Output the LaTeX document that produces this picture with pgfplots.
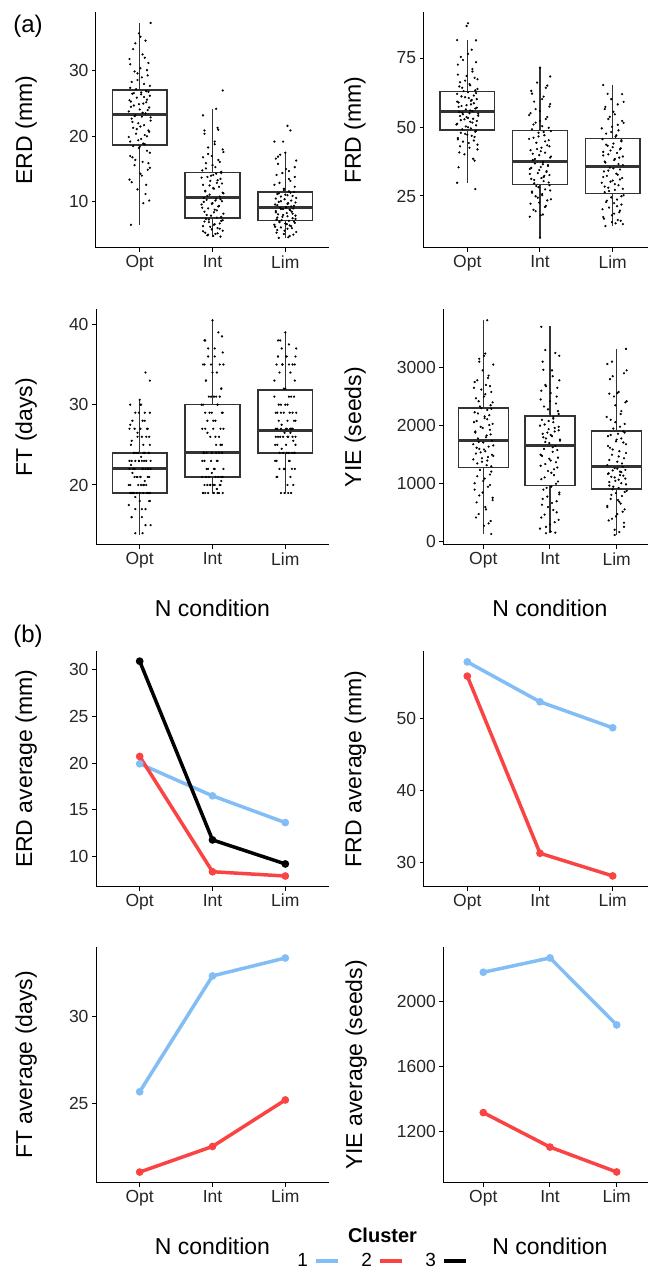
\documentclass[border=0pt]{standalone}
\usepackage{fontspec}
\setmainfont{Liberation Sans}
\usepackage{pgfplots}
\pgfplotsset{compat=1.18}
\usepgfplotslibrary{statistics}
\definecolor{cblue}{RGB}{130,190,245}
\definecolor{cred}{RGB}{250,68,68}
\definecolor{boxc}{RGB}{51,51,51}
\newcommand{\tickfont}{\fontsize{17.5}{20}\selectfont}
\newcommand{\labfont}{\fontsize{23}{26}\selectfont}
\pgfplotsset{
  panel/.style={
    scale only axis, height=235.5pt,
    axis x line=bottom, axis y line=left,
    axis line style={-, line width=1pt, black},
    tick style={line width=1pt, black},
    tick align=outside, major tick length=4pt,
    xtick={1,2,3}, xticklabels={Opt,Int,Lim}, xmin=0.4,
    tick label style={font=\tickfont, text=black!85},
    /pgf/number format/assume math mode=true,
    /pgf/number format/1000 sep={},
    scaled y ticks=false,
    label style={font=\labfont},
    boxplot/draw direction=y,
  },
  leftp/.style={panel, width=233pt, xmax=3.6},
  rightp/.style={panel, width=224.3pt, xmax=3.486},
  rightq/.style={panel, width=204.7pt, xmax=3.47},
  ylab/.style={ylabel style={at={(axis description cs:#1,0.5)}, anchor=center}},
  xlab/.style={xlabel={N condition}, xlabel style={at={(axis description cs:#1,0)}, anchor=base, yshift=-71.5pt}},
  bx/.style={boxc, line width=1.5pt, fill=white},
  jit/.style={only marks, mark=*, mark size=0.9pt, black},
  ln/.style={line width=3.5pt, mark=*, mark size=2pt, line cap=round},
  boxplot/every median/.style={line width=3pt},
}
\begin{document}
\begin{tikzpicture}
\useasboundingbox (0pt,0pt) rectangle (648pt,1269pt);
\node[font=\fontsize{24}{26}\selectfont] at (28pt,1243pt) {(a)};
\node[font=\fontsize{24}{26}\selectfont] at (28pt,632.7pt) {(b)};
\node[font=\bfseries\fontsize{20}{22}\selectfont] at (382.5pt,34pt) {Cluster};

% ---------- P1 ERD
\begin{axis}[leftp, at={(96pt,1021pt)}, anchor=south west, ymin=2.96, ymax=38.9, ytick={10,20,30}, ylabel={ERD (mm)}, ylab=-0.30]
\addplot[bx, boxplot prepared={draw position=1, lower whisker=6.48, lower quartile=18.67, median=23.32, upper quartile=27.04, upper whisker=37.35, box extend=0.75, whisker extend=0}] coordinates {};
\addplot[bx, boxplot prepared={draw position=2, lower whisker=4.69, lower quartile=7.5, median=10.66, upper quartile=14.49, upper whisker=24.23, box extend=0.75, whisker extend=0}] coordinates {};
\addplot[bx, boxplot prepared={draw position=3, lower whisker=4.5, lower quartile=7.14, median=9.13, upper quartile=11.53, upper whisker=17.55, box extend=0.75, whisker extend=0}] coordinates {};
\addplot[jit] coordinates {(0.88,6.5) (1.05,9.8) (1.13,10.2) (0.97,11.9) (1.09,12.6) (0.86,13.4) (1.01,14.3) (1.11,14.9) (0.93,15.6) (1.04,16.1) (0.90,16.8) (1.14,17.5) (0.99,18.2) (1.07,18.8) (0.87,19.2) (1.02,19.6) (1.10,20.0) (0.95,20.4) (1.12,20.9) (0.91,21.3) (1.06,21.7) (0.98,22.0) (1.15,22.4) (0.89,22.7) (1.03,23.0) (0.94,23.2) (1.08,23.5) (0.85,23.8) (1.00,24.1) (1.13,24.4) (0.92,24.7) (1.05,25.0) (0.88,25.3) (1.10,25.6) (0.96,25.9) (1.14,26.2) (0.90,26.5) (1.02,26.7) (1.09,26.9) (0.87,27.4) (1.06,28.0) (0.97,28.6) (1.11,29.3) (0.93,29.9) (1.01,30.4) (1.12,31.2) (0.86,31.8) (1.04,32.5) (0.91,33.3) (1.08,34.6) (0.99,35.7) (1.15,37.3)
(2.11,4.7) (1.93,4.9) (2.04,5.1) (1.90,5.3) (2.14,5.6) (1.99,5.8) (2.07,6.0) (1.87,6.3) (2.02,6.5) (2.10,6.7) (1.95,6.9) (2.12,7.1) (1.91,7.4) (2.06,7.6) (1.98,7.9) (2.15,8.2) (1.89,8.5) (2.03,8.8) (1.94,9.0) (2.08,9.3) (1.85,9.6) (2.00,9.8) (2.13,10.1) (1.92,10.3) (2.05,10.5) (1.88,10.6) (2.10,10.8) (1.96,11.1) (2.14,11.4) (1.90,11.7) (2.02,12.0) (2.09,12.3) (1.87,12.6) (2.06,12.9) (1.97,13.2) (2.11,13.5) (1.93,13.8) (2.01,14.1) (2.12,14.4) (1.86,14.8) (2.04,15.3) (1.91,15.9) (2.08,16.4) (1.99,17.0) (2.15,17.6) (1.94,18.3) (2.03,19.2) (1.89,20.4) (2.07,21.3) (1.87,23.2) (2.05,24.2) (2.14,27.0)
(2.91,4.5) (3.06,4.8) (2.98,5.1) (3.15,5.4) (2.89,5.7) (3.03,5.9) (2.94,6.1) (3.08,6.3) (2.85,6.5) (3.00,6.7) (3.13,6.8) (2.92,7.0) (3.05,7.1) (2.88,7.3) (3.10,7.5) (2.96,7.7) (3.14,7.9) (2.90,8.1) (3.02,8.3) (3.09,8.5) (2.87,8.6) (3.06,8.8) (2.97,8.9) (3.11,9.0) (2.93,9.1) (3.01,9.2) (3.12,9.4) (2.86,9.6) (3.04,9.8) (2.91,10.0) (3.08,10.2) (2.99,10.4) (3.15,10.6) (2.94,10.8) (3.03,11.0) (2.89,11.2) (3.07,11.4) (2.98,11.8) (3.13,12.3) (2.92,12.9) (3.05,13.5) (2.88,14.1) (3.05,14.7) (3.13,15.3) (2.87,16.6) (2.90,16.9) (3.00,17.5) (2.85,19.2) (2.97,19.2) (3.07,20.9) (3.03,21.6)};
\addplot[jit] coordinates {(1.08,11.2) (0.89,13.0) (1.03,14.0) (1.14,15.2) (0.94,16.4) (0.87,17.0) (1.10,17.8) (1.00,18.4) (0.91,18.5) (1.12,15.9) (1.05,18.9) (0.98,19.4) (0.85,19.9) (1.07,20.2) (1.13,20.7) (0.96,21.1) (1.01,21.5) (0.90,22.2) (1.15,22.9) (0.93,23.1) (1.04,23.6) (1.11,24.0) (0.88,24.5) (0.99,24.9) (1.09,25.2) (0.86,25.5) (1.06,26.0) (1.02,26.4) (0.92,26.6) (1.12,26.8) (0.95,27.2) (1.14,27.7) (0.89,28.3) (1.03,29.0) (0.97,29.6) (1.10,30.1) (0.87,31.0) (1.07,32.0) (0.94,34.2) (1.01,35.2)
(2.01,4.8) (1.94,5.0) (2.07,5.2) (1.87,5.5) (2.10,5.9) (1.97,6.2) (2.03,6.6) (1.89,7.0) (2.14,7.2) (1.95,7.3) (2.12,7.7) (1.92,8.0) (2.02,8.4) (2.06,8.7) (1.86,9.1) (2.09,9.4) (1.99,9.7) (1.88,10.0) (2.11,10.4) (2.04,10.2) (1.93,10.9) (2.15,11.3) (1.90,11.6) (2.01,12.1) (1.96,12.5) (2.13,12.8) (2.07,13.3) (1.85,13.7) (1.98,14.0) (2.05,14.3) (2.12,14.6) (1.91,15.1) (2.00,15.6) (2.10,16.1) (1.87,16.8) (1.94,17.3) (2.14,18.0) (2.03,18.8) (1.89,20.9) (2.08,21.0)
(3.04,4.6) (3.11,5.0) (2.88,5.3) (2.99,5.6) (3.09,6.0) (2.86,6.2) (3.06,6.4) (3.02,6.6) (2.92,6.9) (3.12,7.0) (2.95,7.2) (3.14,7.4) (2.89,7.6) (3.03,7.8) (2.97,8.0) (3.10,8.2) (2.87,8.4) (3.07,8.7) (2.94,8.9) (3.01,9.1) (3.08,9.3) (2.89,9.5) (3.03,9.7) (3.14,9.9) (2.94,10.1) (2.87,10.5) (3.10,10.9) (3.00,11.1) (2.91,11.3) (3.12,11.5) (3.05,11.6) (2.98,12.0) (2.85,12.6) (3.07,13.2) (3.13,13.8) (2.96,14.4) (3.01,15.0) (2.90,15.8) (3.15,16.3) (2.93,17.2)};
\end{axis}

% ---------- P2 FRD
\begin{axis}[rightp, at={(423.7pt,1021pt)}, anchor=south west, ymin=6.16, ymax=91.5, ytick={25,50,75}, ylabel={FRD (mm)}, ylab=-0.307]
\addplot[bx, boxplot prepared={draw position=1, lower whisker=29.8, lower quartile=48.9, median=55.56, upper quartile=62.8, upper whisker=81.5, box extend=0.75, whisker extend=0}] coordinates {};
\addplot[bx, boxplot prepared={draw position=2, lower whisker=9.9, lower quartile=29.2, median=37.56, upper quartile=48.7, upper whisker=71.5, box extend=0.75, whisker extend=0}] coordinates {};
\addplot[bx, boxplot prepared={draw position=3, lower whisker=14.1, lower quartile=25.85, median=35.75, upper quartile=45.9, upper whisker=65.2, box extend=0.75, whisker extend=0}] coordinates {};
\addplot[jit] coordinates {(1.11,27.5) (0.86,29.8) (0.88,35.4) (1.10,37.8) (0.96,40.1) (1.14,41.9) (0.90,43.0) (1.02,44.2) (1.09,45.1) (0.87,46.0) (1.06,46.8) (0.97,47.5) (1.11,48.3) (0.93,49.2) (1.01,49.9) (1.12,50.6) (0.86,51.2) (1.04,51.9) (0.91,52.5) (1.08,53.0) (0.99,53.6) (1.15,54.1) (0.94,54.6) (1.03,55.0) (0.89,55.4) (1.07,55.8) (0.98,56.4) (1.13,57.0) (0.92,57.6) (1.05,58.2) (0.88,58.9) (1.05,59.5) (1.13,60.1) (0.97,60.8) (1.09,61.4) (0.86,62.0) (1.01,62.6) (1.11,63.3) (0.93,64.2) (1.04,65.1) (0.90,66.2) (1.14,67.3) (0.99,68.5) (1.07,70.1) (0.87,72.6) (1.12,73.5) (0.91,75.4) (1.06,78.0) (0.86,81.5) (1.12,81.4) (0.99,86.6) (1.01,87.6)
(2.00,9.9) (1.86,17.5) (2.04,18.3) (1.91,20.0) (2.08,21.4) (1.99,22.6) (2.15,23.8) (1.94,24.9) (2.03,25.7) (1.89,26.6) (2.07,27.4) (1.98,28.2) (2.13,28.9) (1.92,29.6) (2.05,30.4) (1.88,31.2) (2.05,31.9) (2.13,32.6) (1.97,33.3) (2.09,34.0) (1.86,34.8) (2.01,35.5) (2.11,36.2) (1.93,36.8) (2.04,37.3) (1.90,38.0) (2.14,38.9) (1.99,39.8) (2.07,40.7) (1.87,41.6) (2.02,42.5) (2.10,43.4) (1.95,44.3) (2.12,45.2) (1.91,46.1) (2.06,47.0) (1.98,47.9) (2.15,48.5) (1.89,49.2) (2.03,50.3) (1.94,51.6) (2.08,52.9) (1.85,54.3) (2.00,55.8) (2.13,57.4) (1.92,59.2) (2.05,61.0) (1.88,63.1) (2.10,65.0) (1.96,66.1) (2.14,68.3) (2.00,71.5)
(2.90,14.1) (3.14,14.8) (2.99,15.5) (3.07,16.3) (2.87,17.4) (3.02,18.6) (3.10,19.7) (2.95,20.8) (3.12,21.9) (2.91,22.8) (3.06,23.7) (2.98,24.5) (3.15,25.3) (2.89,26.4) (3.03,27.2) (2.94,28.0) (3.08,28.9) (2.85,29.8) (3.00,30.6) (3.13,31.5) (2.92,32.3) (3.05,33.1) (2.88,33.9) (3.10,34.6) (2.96,35.3) (3.14,36.2) (2.90,37.1) (3.02,38.0) (3.09,38.9) (2.87,39.7) (3.06,40.6) (2.97,41.5) (3.11,42.3) (2.93,43.2) (3.01,44.0) (3.12,44.8) (2.86,45.6) (3.04,46.5) (2.91,47.6) (3.08,48.8) (2.99,50.1) (3.15,51.5) (2.94,52.9) (3.03,54.6) (2.89,56.5) (3.07,58.2) (2.98,60.1) (3.13,61.9) (2.87,65.2)};
\addplot[jit] coordinates {(1.08,38.5) (0.89,40.8) (1.03,42.5) (1.14,43.6) (0.94,44.7) (0.87,45.5) (1.10,46.4) (1.00,47.2) (0.91,47.9) (1.12,48.6) (1.05,49.5) (0.98,50.2) (0.85,50.9) (1.07,51.6) (1.13,52.2) (0.96,52.8) (1.01,53.3) (0.90,54.0) (1.15,54.8) (0.93,55.2) (1.04,56.0) (1.11,56.7) (0.88,57.3) (0.99,57.9) (1.09,58.6) (0.86,59.2) (1.06,59.8) (1.02,60.5) (0.92,61.1) (1.12,62.3) (0.95,63.0) (1.14,63.8) (0.89,64.7) (1.03,65.6) (0.97,66.8) (1.10,67.8) (0.87,69.0) (1.07,71.0) (0.94,74.3) (1.01,76.5)
(2.01,18.0) (1.94,19.5) (2.07,21.0) (1.87,22.2) (2.10,23.4) (1.97,24.4) (2.03,25.3) (1.89,26.2) (2.14,27.0) (1.95,28.6) (2.12,29.9) (1.92,30.8) (2.02,31.5) (2.06,32.3) (1.86,33.0) (2.09,33.7) (1.99,34.4) (1.88,35.2) (2.11,35.9) (2.04,36.5) (1.93,38.4) (2.15,39.3) (1.90,40.3) (2.01,41.2) (1.96,42.0) (2.13,43.0) (2.07,44.8) (1.85,45.7) (1.98,46.6) (2.05,48.2) (2.12,49.7) (1.91,50.9) (2.00,52.2) (2.10,53.6) (1.87,55.0) (1.94,56.5) (2.14,58.3) (2.03,60.1) (1.89,62.1) (2.08,64.2)
(3.04,15.1) (3.11,16.0) (2.88,16.8) (2.99,18.0) (3.09,19.1) (2.86,20.2) (3.06,21.3) (3.02,22.4) (2.92,23.3) (3.12,24.9) (2.95,26.8) (3.14,27.6) (2.89,28.4) (3.03,29.3) (2.97,30.2) (3.10,31.0) (2.87,31.9) (3.07,32.7) (2.94,34.2) (3.01,35.0) (3.08,36.6) (2.89,37.5) (3.03,38.4) (3.14,39.3) (2.94,40.1) (2.87,41.0) (3.10,41.9) (3.00,42.7) (2.91,43.6) (3.12,45.2) (3.05,47.0) (2.98,48.2) (2.85,49.5) (3.07,50.8) (3.13,52.2) (2.96,53.7) (3.01,55.5) (2.90,57.3) (3.15,59.1) (2.93,62.0)};
\end{axis}

% ---------- P3 FT
\begin{axis}[leftp, at={(96pt,724pt)}, anchor=south west, ymin=12.53, ymax=41.85, ytick={20,30,40}, ylabel={FT (days)}, ylab=-0.30, xlab=0.5]
\addplot[bx, boxplot prepared={draw position=1, lower whisker=13.8, lower quartile=19, median=22, upper quartile=24, upper whisker=30.6, box extend=0.75, whisker extend=0}] coordinates {};
\addplot[bx, boxplot prepared={draw position=2, lower whisker=19, lower quartile=21, median=24, upper quartile=30, upper whisker=40.5, box extend=0.75, whisker extend=0}] coordinates {};
\addplot[bx, boxplot prepared={draw position=3, lower whisker=19, lower quartile=24, median=26.8, upper quartile=31.8, upper whisker=39, box extend=0.75, whisker extend=0}] coordinates {};
\addplot[jit] coordinates {(0.94,14) (1.04,14) (1.15,15) (0.89,16) (1.03,16) (0.94,17) (1.08,17) (0.85,17.5) (1.00,18) (1.13,18) (0.92,19) (1.05,19) (0.88,19) (1.10,19) (0.96,19) (1.14,19) (0.90,19) (1.02,20) (1.09,20) (0.87,20) (1.06,20) (0.97,21) (1.11,21) (0.93,21) (1.01,21) (1.12,22) (0.86,22) (1.04,22) (0.91,22) (1.08,22) (0.99,23) (1.15,23) (0.94,23) (1.03,23) (0.89,23) (1.07,24) (0.98,24) (1.13,24) (0.92,24) (1.05,24) (0.88,25) (1.05,25) (1.13,26) (0.97,26) (1.09,26) (0.86,27) (1.01,27) (1.11,27) (0.93,27) (1.04,28) (0.90,28) (1.14,29) (0.99,29) (1.07,29) (0.87,30) (1.02,30) (1.00,30.6) (1.14,33) (1.08,34)
(2.14,19) (1.90,19) (2.02,19) (2.09,19) (1.87,19) (2.06,19.5) (1.97,20) (2.11,20) (1.93,20) (2.01,20) (2.12,20.5) (1.86,21) (2.04,21) (1.91,21) (2.08,21) (1.99,21.5) (2.15,22) (1.94,22) (2.03,22) (1.89,23) (2.07,23) (1.98,23) (2.13,24) (1.92,24) (2.05,24) (1.88,24) (2.05,25) (2.13,25) (1.97,26) (2.09,26) (1.86,27) (2.01,27) (2.11,27) (1.93,28) (2.04,28) (1.90,29) (2.14,29) (1.99,29) (2.07,30) (1.87,30) (2.02,31) (2.10,31) (1.95,31) (2.12,32) (1.91,33) (2.06,34) (1.98,35) (2.15,35) (1.89,35) (2.03,36) (1.94,37) (1.90,38) (2.13,38.5) (2.00,40.5)
(2.99,19) (3.08,19) (2.94,19) (3.03,20) (2.89,21) (3.07,21) (2.98,22) (3.13,22) (2.92,22) (3.05,23) (2.88,23) (3.05,24) (3.13,24) (2.97,24) (3.09,24) (2.86,25) (3.01,25) (3.11,25.5) (2.93,26) (3.04,26) (2.90,26) (3.14,26) (2.99,26.5) (3.07,27) (2.87,27) (3.02,27) (3.10,27) (2.95,27.5) (3.12,28) (2.91,28) (3.06,29) (2.98,29) (3.15,29) (2.89,29) (3.03,30) (2.94,30) (3.08,31) (2.85,31) (3.00,32) (3.13,33) (2.92,34) (3.05,35) (2.88,35) (3.10,35) (2.96,35) (3.14,36) (2.90,36) (3.02,36) (2.95,37) (3.05,37.5) (2.90,38) (3.00,39)};
\addplot[jit] coordinates {(1.08,15) (0.89,16) (1.03,17) (1.14,18) (0.94,18.5) (0.87,19) (1.10,19) (1.00,19) (0.91,19) (1.12,19) (1.05,20) (0.98,20) (0.85,20) (1.07,20.5) (1.13,21) (0.96,21) (1.01,21) (0.90,21.5) (1.15,22) (0.93,22) (1.04,22) (1.11,22) (0.88,22.5) (0.99,23) (1.09,23) (0.86,23) (1.06,23) (1.02,23.5) (0.92,24) (1.12,24) (0.95,24) (1.14,25) (0.89,25.5) (1.03,26) (0.97,26.5) (1.10,27) (0.87,27.5) (1.07,28) (0.94,29) (1.01,30)
(2.01,19) (1.94,19) (2.07,19) (1.87,19) (2.10,20) (1.97,20) (2.03,20) (1.89,20) (2.14,21) (1.95,21) (2.12,21) (1.92,22) (2.02,22) (2.06,23) (1.86,23) (2.09,24) (1.99,24) (1.88,24) (2.11,25) (2.04,26) (1.93,26.5) (2.15,27) (1.90,27) (2.01,28) (1.96,29) (2.13,29) (2.07,30) (1.85,30) (1.98,31) (2.05,31) (2.12,32) (1.91,33) (2.00,34) (2.10,35) (1.87,35) (1.94,36) (2.14,36.5) (2.03,37) (1.89,38) (2.08,39)
(3.04,19) (3.11,20) (2.88,21) (2.99,22) (3.09,22) (2.86,23) (3.06,23) (3.02,24) (2.92,24) (3.12,24) (2.95,24.5) (3.14,25) (2.89,25) (3.03,26) (2.97,26) (3.10,26) (2.87,26) (3.07,26.5) (2.94,27) (3.01,27) (3.08,27) (2.89,27) (3.03,28) (3.14,28) (2.94,29) (2.87,29) (3.10,29) (3.00,30) (2.91,30) (3.12,31) (3.05,31) (2.98,32) (2.85,33) (3.07,34) (3.13,35) (2.96,35) (3.01,36) (2.90,36) (3.15,37) (2.93,38)};
\end{axis}

% ---------- P4 YIE
\begin{axis}[rightq, at={(443.3pt,724pt)}, anchor=south west, ymin=-52, ymax=3997, ytick={0,1000,2000,3000}, ylabel={YIE (seeds)}, ylab=-0.431, xlab=0.521]
\addplot[bx, boxplot prepared={draw position=1, lower whisker=137, lower quartile=1282, median=1746, upper quartile=2307, upper whisker=3812, box extend=0.75, whisker extend=0}] coordinates {};
\addplot[bx, boxplot prepared={draw position=2, lower whisker=149, lower quartile=967, median=1666, upper quartile=2164, upper whisker=3715, box extend=0.75, whisker extend=0}] coordinates {};
\addplot[bx, boxplot prepared={draw position=3, lower whisker=120, lower quartile=910, median=1294, upper quartile=1912, upper whisker=3320, box extend=0.75, whisker extend=0}] coordinates {};
\addplot[jit] coordinates {(1.12,137) (1.01,280) (1.11,360) (0.93,480) (1.04,560) (0.90,680) (1.14,760) (0.99,850) (1.07,950) (0.87,1010) (1.02,1090) (1.10,1160) (0.95,1240) (1.12,1300) (0.91,1350) (1.06,1400) (0.98,1440) (1.15,1480) (0.89,1520) (1.03,1560) (0.94,1600) (1.08,1640) (0.85,1680) (1.00,1710) (1.13,1740) (0.92,1780) (1.05,1830) (0.88,1880) (1.10,1930) (0.96,1980) (1.14,2030) (0.90,2080) (1.02,2130) (1.09,2180) (0.87,2230) (1.06,2270) (0.97,2300) (1.11,2350) (0.93,2420) (1.01,2500) (1.12,2580) (0.86,2650) (1.04,2700) (0.91,2780) (1.08,2860) (0.99,2950) (1.15,3050) (0.94,3150) (1.03,3240) (1.06,3812)
(1.94,149) (2.08,160) (1.85,230) (2.00,300) (2.13,380) (1.92,470) (2.05,550) (1.88,640) (2.10,700) (1.96,780) (2.14,850) (1.90,900) (2.02,950) (2.09,1000) (1.87,1080) (2.06,1150) (1.97,1220) (2.11,1280) (1.93,1340) (2.01,1400) (2.12,1450) (1.86,1500) (2.04,1550) (1.91,1600) (2.08,1650) (1.99,1700) (2.15,1740) (1.94,1780) (2.03,1820) (1.89,1860) (2.07,1900) (1.98,1940) (2.13,1980) (1.92,2020) (2.05,2060) (1.88,2100) (2.05,2150) (2.13,2200) (1.97,2280) (2.09,2380) (1.86,2450) (2.01,2560) (2.11,2650) (1.93,2700) (2.04,2850) (1.90,2960) (2.14,3200) (1.93,3300) (1.87,3700)
(2.97,120) (2.97,210) (3.11,330) (2.93,400) (3.01,480) (3.12,560) (2.86,620) (3.04,690) (2.91,740) (3.08,790) (2.99,840) (3.15,880) (2.94,905) (3.03,930) (2.89,970) (3.07,1010) (2.98,1050) (3.13,1090) (2.92,1120) (3.05,1150) (2.88,1180) (3.05,1210) (3.13,1240) (2.97,1270) (3.09,1290) (2.86,1320) (3.01,1380) (3.11,1440) (2.93,1500) (3.04,1560) (2.90,1620) (3.14,1680) (2.99,1730) (3.07,1780) (2.87,1820) (3.02,1860) (3.10,1900) (2.95,1950) (3.12,2030) (2.91,2100) (3.06,2200) (2.98,2350) (3.15,2420) (2.89,2550) (3.03,2580) (2.94,2850) (3.11,2900) (2.86,3060) (3.14,3320)};
\addplot[jit] coordinates {(1.08,320) (0.89,420) (1.03,600) (1.14,720) (0.94,800) (0.87,900) (1.10,980) (1.00,1050) (0.91,1130) (1.12,1210) (1.05,1320) (0.98,1380) (0.85,1420) (1.07,1460) (1.13,1500) (0.96,1540) (1.01,1590) (0.90,1620) (1.15,1660) (0.93,1720) (1.04,1800) (1.11,1850) (0.88,1900) (0.99,1960) (1.09,2010) (0.86,2060) (1.06,2110) (1.02,2160) (0.92,2210) (1.12,2290) (0.95,2330) (1.14,2400) (0.89,2470) (1.03,2540) (0.97,2620) (1.10,2680) (0.87,2750) (1.07,2820) (0.94,3100) (1.01,3200)
(2.01,180) (1.94,260) (2.07,340) (1.87,420) (2.10,510) (1.97,600) (2.03,670) (1.89,740) (2.14,820) (1.95,930) (2.12,1040) (1.92,1110) (2.02,1190) (2.06,1250) (1.86,1310) (2.09,1370) (1.99,1430) (1.88,1480) (2.11,1580) (2.04,1630) (1.93,1720) (2.15,1760) (1.90,1800) (2.01,1840) (1.96,1880) (2.13,1920) (2.07,1960) (1.85,2000) (1.98,2080) (2.05,2120) (2.12,2250) (1.91,2330) (2.00,2420) (2.10,2500) (1.87,2600) (1.94,2680) (2.14,2780) (2.03,2950) (1.89,3100) (2.08,3250)
(3.04,170) (3.11,260) (2.88,370) (2.99,440) (3.09,520) (2.86,600) (3.06,660) (3.02,720) (2.92,810) (3.12,860) (2.95,950) (3.14,990) (2.89,1030) (3.03,1070) (2.97,1110) (3.10,1140) (2.87,1170) (3.07,1200) (2.94,1230) (3.01,1260) (3.08,1350) (2.89,1410) (3.03,1470) (3.14,1530) (2.94,1590) (2.87,1650) (3.10,1710) (3.00,1760) (2.91,1840) (3.12,1880) (3.05,1980) (2.98,2060) (2.85,2150) (3.07,2250) (3.13,2400) (2.96,2500) (3.01,2560) (2.90,2800) (3.15,2950) (2.93,3100)};
\end{axis}

% ---------- P5 ERD average
\begin{axis}[leftp, at={(96pt,382.3pt)}, anchor=south west, ymin=6.79, ymax=31.96, ytick={10,15,20,25,30}, ylabel={ERD average (mm)}, ylab=-0.30]
\addplot[ln, cblue] coordinates {(1,19.93) (2,16.5) (3,13.64)};
\addplot[ln, cred] coordinates {(1,20.71) (2,8.39) (3,7.93)};
\addplot[ln, black] coordinates {(1,30.89) (2,11.79) (3,9.22)};
\end{axis}

% ---------- P6 FRD average
\begin{axis}[rightp, at={(423.7pt,382.3pt)}, anchor=south west, ymin=26.6, ymax=59.35, ytick={30,40,50}, ylabel={FRD average (mm)}, ylab=-0.304]
\addplot[ln, cblue] coordinates {(1,57.86) (2,52.31) (3,48.7)};
\addplot[ln, cred] coordinates {(1,55.88) (2,31.25) (3,28.1)};
\end{axis}

% ---------- P7 FT average
\begin{axis}[leftp, at={(96pt,86.3pt)}, anchor=south west, ymin=20.48, ymax=34.0, ytick={25,30}, ylabel={FT average (days)}, ylab=-0.30, xlab=0.5,
  legend columns=3, legend plot pos=right,
  legend image code/.code={\draw[#1, mark=none, line cap=butt] (0pt,0pt) -- (22pt,0pt);},
  legend style={at={(axis description cs:1.225,-0.332)}, anchor=center, draw=none, fill=none,
    font=\fontsize{19}{21}\selectfont,
    /tikz/every odd column/.append style={column sep=4pt},
    /tikz/every even column/.append style={column sep=20pt}}]
\addplot[ln, cblue] coordinates {(1,25.7) (2,32.35) (3,33.38)};
\addlegendentry{1}
\addplot[ln, cred] coordinates {(1,21.09) (2,22.56) (3,25.23)};
\addlegendentry{2}
\addlegendimage{ln, black}
\addlegendentry{3}
\end{axis}

% ---------- P8 YIE average
\begin{axis}[rightq, at={(443.3pt,86.3pt)}, anchor=south west, ymin=885, ymax=2333, ytick={1200,1600,2000}, ylabel={YIE average (seeds)}, ylab=-0.426, xlab=0.521]
\addplot[ln, cblue] coordinates {(1,2179) (2,2267) (3,1855)};
\addplot[ln, cred] coordinates {(1,1316) (2,1104) (3,951)};
\end{axis}
\end{tikzpicture}
\end{document}
